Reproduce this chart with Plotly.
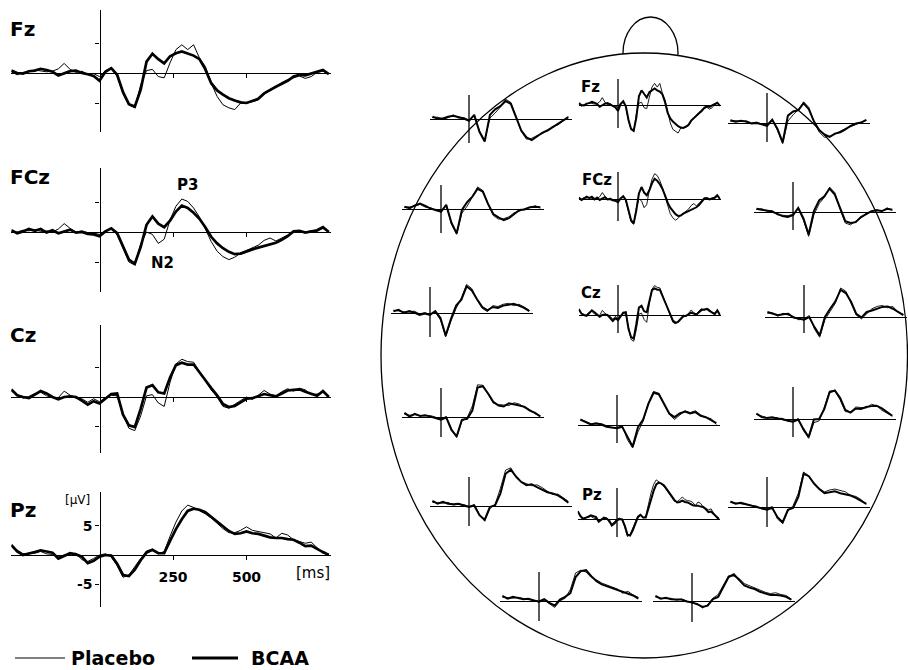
import plotly.graph_objects as go

W, H = 908, 670
FONT = "DejaVu Sans"

# ---------------- data (µV) ----------------
T_MAIN = list(range(-300, 800, 20))   # ms, main panels
T_MINI = list(range(-280, 800, 40))   # ms, head-map panels

FZ_BCAA = [0.4, 0.0, -0.1, 0.3, 0.4, 0.7, 0.5, 0.2, -0.4, 0.0,
           0.3, 0.4, 0.0, -0.2, -0.5, -1.3, 0.2, 0.8, -0.3, -3.2,
           -5.2, -5.6, -2.8, 1.9, 3.2, 2.3, 1.6, 2.8, 3.3, 3.6,
           3.2, 2.9, 2.3, 0.6, -1.7, -2.9, -3.6, -4.2, -4.6, -4.9,
           -5.0, -4.7, -4.3, -3.4, -2.8, -2.3, -1.8, -1.3, -0.6, -0.3,
           -0.4, -0.1, 0.2, 0.5, -0.2]
FZ_PLAC = [0.2, -0.3, 0.1, 0.2, 0.5, 0.3, 0.2, 0.3, 0.7, 1.6,
           0.6, 0.1, 0.3, -0.2, -0.1, -0.6, 0.4, 0.7, -0.5, -3.4,
           -5.3, -5.8, -2.0, 0.4, 0.6, -0.6, -0.8, 1.7, 3.9, 4.7,
           3.9, 4.7, 2.5, 1.1, -1.7, -3.9, -5.3, -5.8, -6.1, -5.0,
           -4.9, -4.8, -4.5, -3.5, -2.9, -2.2, -1.6, -1.1, -0.8, -0.5,
           -0.9, -0.6, 0.1, 0.3, -0.1]

FCZ_BCAA = [0.3, -0.2, 0.1, 0.5, 0.2, 0.5, -0.1, 0.3, -0.2, 0.1,
            0.4, -0.1, 0.0, -0.3, -0.4, -0.7, 0.1, 0.6, -0.2, -2.4,
            -4.6, -5.3, -2.5, 1.2, 2.6, 1.4, 0.8, 1.9, 3.4, 4.4,
            4.0, 3.2, 2.2, 0.8, -0.8, -1.9, -2.7, -3.3, -3.7, -3.6,
            -3.2, -2.9, -2.6, -2.3, -2.0, -1.8, -1.3, -0.7, 0.1, 0.2,
            -0.1, 0.1, 0.3, 0.8, 0.0]
FCZ_PLAC = [0.1, 0.0, 0.3, 0.2, 0.4, 0.1, 0.2, 0.0, 0.5, 1.4,
            0.6, 0.0, 0.2, -0.1, -0.2, -0.4, 0.2, 0.5, -0.4, -2.8,
            -5.0, -5.5, -2.0, 0.0, -0.4, -1.9, -1.2, 2.0, 4.3, 5.5,
            5.1, 4.0, 2.5, 0.5, -1.6, -3.2, -4.1, -4.6, -4.2, -3.5,
            -3.1, -2.6, -2.2, -1.4, -1.0, -1.5, -1.0, -0.5, 0.2, 0.1,
            0.0, 0.2, 0.1, 0.6, 0.1]

CZ_BCAA = [1.3, 0.3, 0.0, -0.2, 0.4, 1.0, 0.6, 0.0, -0.4, 0.0,
           0.1, 0.0, -0.6, -1.3, -0.7, -1.1, -0.3, 0.5, 0.6, -3.0,
           -4.8, -5.1, -2.0, 1.6, 2.0, 0.8, 0.6, 3.3, 5.4, 5.8,
           5.5, 5.5, 4.2, 2.8, 1.5, 0.3, -1.2, -1.7, -1.5, -0.9,
           -0.3, -0.2, 0.1, 0.5, 0.3, 0.1, 0.6, 1.1, 1.2, 1.3,
           0.9, 0.5, 0.2, 1.0, 0.0]
CZ_PLAC = [1.0, 0.4, -0.2, 0.1, 0.6, 0.8, 0.2, -0.1, -0.1, 1.0,
           0.3, -0.2, -0.3, -0.9, -0.3, -0.8, -0.1, 0.3, 0.2, -2.9,
           -5.3, -5.7, -3.2, 0.2, 0.4, -1.0, -1.6, 2.5, 5.6, 6.4,
           6.0, 5.9, 4.4, 2.7, 1.2, 0.0, -1.6, -1.9, -1.2, -0.6,
           0.0, -0.4, 0.3, 1.1, 0.5, 0.2, 0.9, 1.4, 1.0, 1.5,
           1.2, 0.4, 0.5, 0.8, 0.2]

PZ_BCAA = [1.7, 0.6, 0.0, 0.2, 0.5, 0.8, 0.6, 0.4, -0.6, -0.2,
           0.3, 0.1, -0.3, -1.4, -1.0, -0.3, 0.0, -0.1, -1.5, -3.4,
           -3.6, -2.5, -0.9, 0.4, 0.9, 0.3, 0.3, 2.4, 4.4, 6.1,
           7.5, 7.9, 7.7, 7.3, 6.5, 5.6, 4.8, 4.1, 3.6, 3.7,
           4.0, 3.7, 3.6, 3.3, 3.0, 2.9, 2.9, 2.7, 2.6, 2.1,
           1.5, 1.6, 1.0, 0.5, 0.0]
PZ_PLAC = [1.5, 0.8, 0.2, 0.3, 0.3, 0.6, 0.2, 0.1, -0.3, 0.0,
           0.1, 0.3, -0.8, -1.1, -0.6, 0.0, 0.2, -0.3, -1.8, -3.8,
           -3.4, -1.9, -0.6, 0.7, 1.0, 0.2, 0.6, 3.2, 5.6, 7.5,
           8.5, 8.1, 7.6, 7.0, 6.3, 5.4, 4.5, 3.8, 3.8, 4.2,
           4.8, 4.2, 4.0, 3.9, 3.6, 2.9, 3.7, 3.4, 2.6, 2.3,
           2.0, 2.2, 1.2, 0.3, 0.1]

F3_BCAA = [0.5, 0.1, 0.1, 0.5, 0.7, 0.4, 0.1, -0.4, 0.9, -2.8, -4.9, 0.9, 2.1, 2.8,
           3.9, 3.3, 0.4, -2.5, -4.0, -4.6, -3.8, -3.0, -2.5, -1.8, -1.1, -0.4, 0.4]
F3_PLAC = [0.3, 0.4, -0.1, 0.3, 0.9, 0.2, 0.3, -0.2, 0.6, -2.5, -4.6, 0.2, 1.3, 2.6,
           4.3, 3.6, 0.6, -2.7, -4.4, -4.2, -3.6, -3.2, -2.4, -1.6, -1.3, -0.5, 0.5]
F4_BCAA = [0.6, 0.3, 0.5, 0.3, -0.1, 0.0, -0.3, -0.6, 0.7, -1.3, -4.2, 1.6, 2.5, 2.8,
           4.3, 3.0, 0.3, -1.6, -2.5, -3.0, -2.3, -2.0, -1.4, -0.6, -0.1, 0.1, 0.7]
F4_PLAC = [0.4, 0.5, 0.3, 0.5, 0.0, 0.2, -0.2, -0.4, 0.8, -1.6, -4.5, 0.4, 1.8, 2.9,
           4.6, 3.4, 0.2, -2.0, -3.1, -2.9, -2.4, -1.8, -1.2, -0.8, -0.3, 0.2, 0.6]
FC3_BCAA = [0.5, 0.2, 0.8, 1.2, 0.7, 0.1, -0.2, -0.6, 0.9, -3.0, -5.3, -0.2, 1.5, 2.7,
            4.4, 3.8, 1.1, -1.1, -1.8, -2.4, -2.0, -1.1, -0.2, -0.1, 0.4, 0.5, 0.4]
FC3_PLAC = [0.3, 0.5, 0.6, 1.0, 0.4, 0.3, -0.4, -0.4, 0.7, -3.3, -5.5, -0.9, 0.6, 2.6,
            4.8, 4.0, 1.0, -1.4, -2.2, -2.1, -1.7, -0.8, -0.5, 0.1, 0.3, 0.7, 0.2]
FC4_BCAA = [0.7, 0.5, 0.4, 0.1, -0.4, -0.9, -1.1, -0.7, 0.9, -1.4, -4.9, 0.2, 2.5, 3.4,
            5.1, 3.8, 0.9, -2.0, -2.4, -2.2, -1.1, -0.5, 0.2, 0.4, 0.2, 0.7, 0.5]
FC4_PLAC = [0.5, 0.7, 0.2, 0.3, -0.6, -0.7, -0.8, -0.5, 0.7, -1.8, -5.3, -0.6, 1.8, 3.2,
            5.4, 4.2, 0.6, -2.4, -2.8, -2.0, -1.3, -0.3, 0.0, 0.5, 0.1, 0.9, 0.4]
C3_BCAA = [0.4, 0.7, 0.0, 0.4, 0.1, -0.4, -0.1, -0.4, 0.4, -1.1, -4.9, -1.3, 1.6, 2.9,
           5.8, 4.9, 3.0, 1.3, 0.6, 1.3, 1.1, 1.6, 1.8, 2.0, 1.6, 1.1, 0.4]
C3_PLAC = [0.6, 0.4, 0.3, 0.2, 0.4, -0.2, 0.1, -0.3, 0.2, -1.5, -5.2, -1.8, 1.0, 3.3,
           6.2, 5.3, 2.8, 1.0, 0.3, 1.6, 1.4, 1.9, 2.1, 1.6, 1.9, 1.3, 0.6]
C4_BCAA = [1.1, 0.7, 0.4, 0.6, 0.7, -0.1, -0.4, -0.6, 0.0, -2.2, -4.0, 0.0, 1.8, 3.4,
           5.9, 5.2, 3.3, 0.7, -0.1, 1.1, 1.4, 1.8, 2.2, 2.3, 1.8, 1.1, 0.4]
C4_PLAC = [0.8, 0.9, 0.2, 0.8, 0.4, 0.1, -0.6, -0.4, 0.3, -2.6, -4.4, -0.6, 1.2, 3.0,
           6.3, 5.6, 3.0, 0.4, -0.4, 0.8, 1.8, 2.3, 2.5, 2.0, 2.3, 1.0, 0.6]
CP3_BCAA = [0.9, 0.1, 0.7, 0.2, 0.4, 0.1, -0.3, -0.6, -0.1, -2.8, -4.2, -0.6, -0.4, 1.4,
            6.4, 6.7, 5.1, 3.3, 2.5, 2.3, 3.0, 2.8, 2.5, 2.2, 1.4, 0.9, 0.1]
CP3_PLAC = [0.6, 0.4, 0.5, 0.3, 0.2, 0.3, -0.1, -0.4, 0.1, -2.5, -4.5, -0.9, -0.2, 2.4,
            7.0, 6.9, 5.0, 3.0, 2.7, 2.6, 2.5, 3.1, 2.8, 2.0, 1.6, 0.7, 0.3]
CPZ_BCAA = [1.2, 0.7, 0.1, 0.4, 0.1, -0.4, -0.5, -0.7, -0.4, -2.7, -4.7, -0.5, 1.2, 4.6,
            7.0, 6.7, 4.6, 2.5, 1.7, 2.5, 2.9, 2.5, 2.8, 2.0, 1.7, 1.1, 0.4]
CPZ_PLAC = [1.0, 0.8, 0.3, 0.2, 0.3, -0.2, -0.6, -0.5, -0.2, -3.2, -5.0, -1.5, 0.8, 4.8,
            7.3, 6.9, 4.7, 2.3, 1.2, 2.2, 3.1, 2.7, 3.1, 2.2, 1.6, 1.4, 0.1]
CP4_BCAA = [1.2, 0.4, 0.2, 0.4, 0.1, 0.0, -0.4, -0.6, -0.1, -2.2, -3.9, -0.1, 0.0, 2.2,
            5.8, 6.2, 4.6, 2.0, 1.4, 2.3, 2.2, 2.6, 2.8, 2.9, 2.3, 1.4, 0.7]
CP4_PLAC = [1.0, 0.6, 0.3, 0.2, 0.3, -0.2, -0.3, -0.5, 0.1, -2.5, -4.2, -0.8, -0.4, 2.6,
            6.1, 6.1, 4.2, 1.6, 1.5, 2.6, 2.5, 2.4, 3.2, 2.9, 1.9, 1.3, 0.6]
P3_BCAA = [1.1, 0.5, 0.9, 0.5, 0.4, 0.5, 0.1, -0.2, 0.1, -2.0, -3.0, -0.2, 0.2, 2.7,
           7.0, 7.9, 6.4, 5.2, 4.5, 4.7, 4.1, 3.6, 3.0, 2.7, 2.3, 1.6, 0.7]
P3_PLAC = [0.8, 0.7, 0.6, 0.8, 0.2, 0.4, 0.3, -0.1, 0.3, -1.8, -3.3, -0.6, 0.4, 3.8,
           7.8, 8.3, 6.2, 5.3, 4.8, 4.4, 4.6, 4.0, 3.2, 2.5, 2.6, 1.8, 1.0]
P4_BCAA = [1.2, 0.7, 0.9, 0.6, 0.3, 0.0, -0.3, -0.6, -0.2, -2.2, -3.3, -0.6, -0.2, 2.2,
           7.2, 6.7, 5.1, 3.9, 3.0, 3.2, 3.4, 3.0, 2.8, 2.5, 2.0, 1.4, 0.7]
P4_PLAC = [1.0, 0.9, 0.7, 0.5, 0.4, 0.2, -0.4, -0.4, 0.1, -2.6, -3.6, -0.9, 0.3, 3.0,
           7.6, 6.8, 5.0, 4.0, 3.3, 3.7, 3.9, 3.6, 3.3, 2.5, 2.3, 1.6, 0.6]
O1_BCAA = [1.1, 0.5, 0.9, 0.6, 0.4, 0.5, 0.1, -0.1, 0.4, -0.4, -1.0, 0.3, 0.9, 1.7,
           5.2, 6.5, 6.7, 5.4, 4.3, 3.6, 3.2, 2.7, 2.3, 2.0, 1.6, 1.2, 0.5]
O1_PLAC = [0.8, 0.7, 0.6, 0.8, 0.5, 0.3, 0.2, -0.3, 0.2, -0.7, -1.4, 0.0, 0.6, 2.5,
           6.1, 6.7, 6.3, 5.1, 4.6, 3.9, 3.5, 3.1, 2.6, 1.7, 2.1, 1.3, 0.8]
O2_BCAA = [1.1, 0.5, 0.7, 0.4, 0.3, 0.3, -0.1, -0.3, -0.7, -1.3, -1.0, 0.4, 0.9, 3.0,
           5.2, 5.8, 4.6, 3.4, 2.9, 2.6, 2.0, 1.6, 1.3, 1.3, 1.2, 0.9, 0.3]
O2_PLAC = [0.9, 0.6, 0.5, 0.6, 0.2, 0.4, 0.0, -0.5, -0.6, -1.5, -0.8, 0.6, 1.4, 3.6,
           5.5, 5.4, 4.9, 3.8, 3.3, 2.8, 2.4, 1.9, 1.6, 1.8, 1.4, 1.2, 0.4]

MAIN_CHANNELS = [("Fz", FZ_BCAA, FZ_PLAC), ("FCz", FCZ_BCAA, FCZ_PLAC),
                 ("Cz", CZ_BCAA, CZ_PLAC), ("Pz", PZ_BCAA, PZ_PLAC)]
MINI_CHANNELS = [
    ("F3", T_MINI, F3_BCAA, F3_PLAC), ("Fz", T_MAIN, FZ_BCAA, FZ_PLAC), ("F4", T_MINI, F4_BCAA, F4_PLAC),
    ("FC3", T_MINI, FC3_BCAA, FC3_PLAC), ("FCz", T_MAIN, FCZ_BCAA, FCZ_PLAC), ("FC4", T_MINI, FC4_BCAA, FC4_PLAC),
    ("C3", T_MINI, C3_BCAA, C3_PLAC), ("Cz", T_MAIN, CZ_BCAA, CZ_PLAC), ("C4", T_MINI, C4_BCAA, C4_PLAC),
    ("CP3", T_MINI, CP3_BCAA, CP3_PLAC), ("CPz", T_MINI, CPZ_BCAA, CPZ_PLAC), ("CP4", T_MINI, CP4_BCAA, CP4_PLAC),
    ("P3", T_MINI, P3_BCAA, P3_PLAC), ("Pz", T_MAIN, PZ_BCAA, PZ_PLAC), ("P4", T_MINI, P4_BCAA, P4_PLAC),
    ("O1", T_MINI, O1_BCAA, O1_PLAC), ("O2", T_MINI, O2_BCAA, O2_PLAC),
]
MINI_LABELED = {"Fz": (590, 87), "FCz": (597, 180), "Cz": (591, 293), "Pz": (592, 495)}

# ---------------- layout (pixels) ----------------
T_MIN, T_MAX = -300, 786
MAIN_T0_X, MAIN_PX_MS = 99.5, 0.294
MAIN_POS = {  # zero_y, axis_top, axis_bottom, px per µV
    "Fz": (73, 10, 132, 6.0), "FCz": (232, 168, 292, 6.0),
    "Cz": (397, 325, 453, 5.9), "Pz": (555, 492, 607, 5.87)}
MAIN_LABEL_Y = {"Fz": 29, "FCz": 177, "Cz": 335, "Pz": 510}
MINI_PX_MS, MINI_PX_UV = 0.1307, 4.6
MINI_POS = {  # x of t=0, zero_y, line top, line bottom
    "F3": (469, 119, 95, 143), "Fz": (618, 105, 79, 128), "F4": (767, 123, 93, 142),
    "FC3": (441, 209, 185, 233), "FCz": (618, 199, 172, 221), "FC4": (793, 212, 182, 230),
    "C3": (430, 313, 287, 337), "Cz": (618, 315, 285, 333), "C4": (804, 317, 285, 333),
    "CP3": (441, 417, 388, 437), "CPz": (617, 425, 395, 443), "CP4": (793, 419, 387, 437),
    "P3": (469, 506, 477, 526), "Pz": (617, 519, 488, 537), "P4": (767, 507, 477, 527),
    "O1": (539, 601, 572, 621), "O2": (692, 601, 573, 622)}


def px(x):
    return x / W


def py(y):
    return 1 - y / H


fig = go.Figure()
layout_axes = {}
shapes = []
annotations = []
bold_tick = dict(family=FONT, size=14, color="black", weight="bold")

k = 0
for name, bc, pl in MAIN_CHANNELS:
    k += 1
    ref = "" if k == 1 else str(k)
    zero, top, bot, ppu = MAIN_POS[name]
    is_pz = name == "Pz"
    layout_axes["xaxis" + ref] = dict(
        domain=[px(MAIN_T0_X + T_MIN * MAIN_PX_MS), px(MAIN_T0_X + T_MAX * MAIN_PX_MS)],
        range=[T_MIN, T_MAX], anchor="free", position=py(zero),
        showline=True, linecolor="black", linewidth=1.3, showgrid=False, zeroline=False,
        ticks="outside", tickvals=[250, 500], ticktext=["250", "500"], ticklen=4,
        tickwidth=1.3, tickcolor="black", showticklabels=is_pz, tickfont=bold_tick,
        ticklabelstandoff=5, fixedrange=True)
    layout_axes["yaxis" + ref] = dict(
        domain=[py(bot), py(top)], range=[-(bot - zero) / ppu, (zero - top) / ppu],
        anchor="free", position=px(MAIN_T0_X),
        showline=True, linecolor="black", linewidth=1.3, showgrid=False, zeroline=False,
        ticks="outside", tickvals=[-5, 5], ticktext=["-5", "5"], ticklen=4,
        tickwidth=1.3, tickcolor="black", showticklabels=is_pz, tickfont=bold_tick,
        fixedrange=True)
    fig.add_trace(go.Scatter(x=T_MAIN, y=bc, xaxis="x" + ref, yaxis="y" + ref, mode="lines",
                             line=dict(color="black", width=2.7), showlegend=False, hoverinfo="skip"))
    fig.add_trace(go.Scatter(x=T_MAIN, y=pl, xaxis="x" + ref, yaxis="y" + ref, mode="lines",
                             line=dict(color="black", width=1.0), showlegend=False, hoverinfo="skip"))
    annotations.append(dict(text="<b>%s</b>" % name, x=px(8), y=py(MAIN_LABEL_Y[name]),
                            xanchor="left", yanchor="middle",
                            font=dict(family=FONT, size=20, color="black")))

for name, tt, bc, pl in MINI_CHANNELS:
    k += 1
    ref = str(k)
    xv, zero, top, bot = MINI_POS[name]
    span = 9 * MINI_PX_UV
    layout_axes["xaxis" + ref] = dict(
        domain=[px(xv + T_MIN * MINI_PX_MS), px(xv + T_MAX * MINI_PX_MS)],
        range=[T_MIN, T_MAX], anchor="y" + ref, visible=False, fixedrange=True)
    layout_axes["yaxis" + ref] = dict(
        domain=[py(zero + span), py(zero - span)], range=[-9, 9], anchor="x" + ref,
        showgrid=False, showline=False, showticklabels=False, ticks="",
        zeroline=True, zerolinecolor="black", zerolinewidth=1.2, fixedrange=True)
    fig.add_trace(go.Scatter(x=tt, y=bc, xaxis="x" + ref, yaxis="y" + ref, mode="lines",
                             line=dict(color="black", width=2.0), showlegend=False, hoverinfo="skip"))
    fig.add_trace(go.Scatter(x=tt, y=pl, xaxis="x" + ref, yaxis="y" + ref, mode="lines",
                             line=dict(color="black", width=0.9), showlegend=False, hoverinfo="skip"))
    shapes.append(dict(type="line", xref="paper", yref="paper", x0=px(xv), x1=px(xv),
                       y0=py(top), y1=py(bot), line=dict(color="black", width=1.3)))
    if name in MINI_LABELED:
        lx, ly = MINI_LABELED[name]
        annotations.append(dict(text="<b>%s</b>" % name, x=px(lx), y=py(ly),
                                xanchor="center", yanchor="middle",
                                font=dict(family=FONT, size=15, color="black")))

# head outline and nose
shapes.insert(0, dict(type="circle", xref="paper", yref="paper", layer="below",
                      x0=px(623), x1=px(678), y0=py(89), y1=py(17),
                      line=dict(color="black", width=1.3), fillcolor="white"))
shapes.insert(1, dict(type="circle", xref="paper", yref="paper", layer="below",
                      x0=px(381), x1=px(907.5), y0=py(658), y1=py(53),
                      line=dict(color="black", width=1.3), fillcolor="white"))

# legend (drawn manually)
shapes.append(dict(type="line", xref="paper", yref="paper", x0=px(15), x1=px(65),
                   y0=py(658), y1=py(658), line=dict(color="black", width=1.2)))
shapes.append(dict(type="line", xref="paper", yref="paper", x0=px(192), x1=px(238),
                   y0=py(658), y1=py(658), line=dict(color="black", width=3.2)))
for txt, lx in [("Placebo", 70), ("BCAA", 250)]:
    annotations.append(dict(text="<b>%s</b>" % txt, x=px(lx), y=0, xanchor="left",
                            yanchor="bottom", borderpad=0,
                            font=dict(family=FONT, size=19, color="black")))

# component and unit labels
for txt, lx, ly, size, bold in [("P3", 187, 185, 15, True), ("N2", 162, 263, 15, True),
                                 ("[µV]", 77, 500, 12, False), ("[ms]", 313, 573, 15, False)]:
    annotations.append(dict(text=("<b>%s</b>" % txt) if bold else txt, x=px(lx), y=py(ly),
                            xanchor="center", yanchor="middle",
                            font=dict(family=FONT, size=size, color="black")))

xref_all = dict(xref="paper", yref="paper", showarrow=False)
for a in annotations:
    a.update(xref_all)

fig.update_layout(width=W, height=H, autosize=False, margin=dict(l=0, r=0, t=0, b=0),
                  paper_bgcolor="white", plot_bgcolor="rgba(0,0,0,0)",
                  shapes=shapes, annotations=annotations, showlegend=False, **layout_axes)

fig.write_html("out.html", config={"displayModeBar": False},
               post_script="document.body.style.margin='0';")
